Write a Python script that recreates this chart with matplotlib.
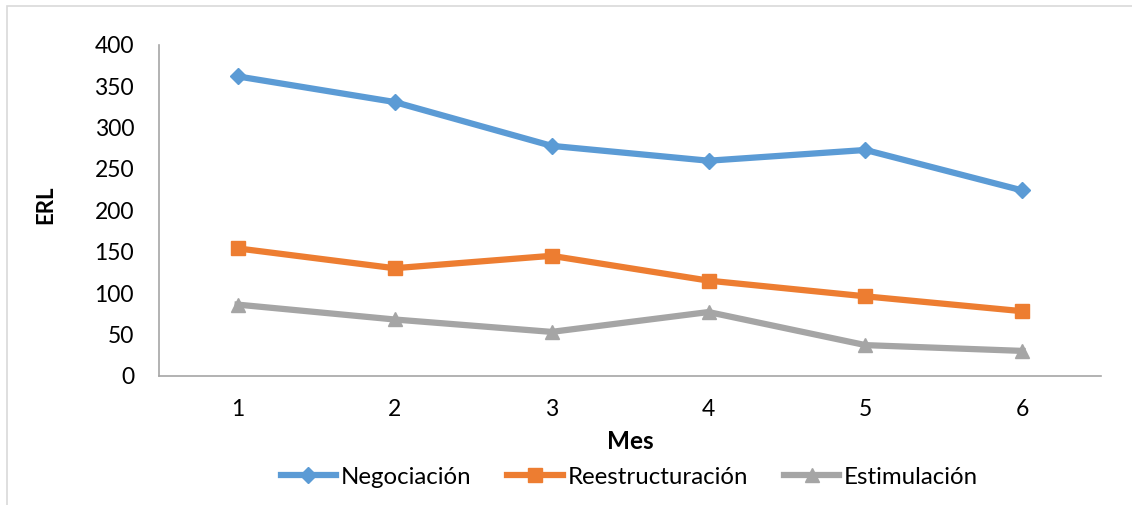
import matplotlib.pyplot as plt
from matplotlib.patches import Rectangle

# Datos por mes
meses = [1, 2, 3, 4, 5, 6]
negociacion = [362, 331, 278, 260, 273, 224]
reestructuracion = [154, 130, 145, 115, 96, 78]
estimulacion = [86, 68, 53, 77, 37, 30]

plt.rcParams['font.family'] = ['Lato', 'DejaVu Sans']

fig = plt.figure(figsize=(11.32, 5.05), dpi=100)
ax = fig.add_axes([0.1405, 0.256, 0.8321, 0.655])

# marco exterior del gráfico
fig.patches.append(Rectangle((7 / 1132, -0.1), 1.2, 1.1 - 6 / 505,
                             transform=fig.transFigure, fill=False,
                             edgecolor='#d9d9d9', linewidth=1.2))

ax.plot(meses, negociacion, color='#5B9BD5', lw=4.5, marker='D', ms=8,
        label='Negociación')
ax.plot(meses, reestructuracion, color='#ED7D31', lw=4.5, marker='s', ms=10,
        label='Reestructuración')
ax.plot(meses, estimulacion, color='#A5A5A5', lw=4.5, marker='^', ms=10,
        label='Estimulación')

ax.set_xlim(0.5, 6.5)
ax.set_ylim(0, 400)
ax.set_xticks(meses)
ax.set_yticks(range(0, 401, 50))
ax.tick_params(length=0, labelsize=16.5, colors='black')
ax.tick_params(axis='y', pad=18)
ax.tick_params(axis='x', pad=17)

for s in ['top', 'right']:
    ax.spines[s].set_visible(False)
for s in ['left', 'bottom']:
    ax.spines[s].set_color('#a6a6a6')
    ax.spines[s].set_linewidth(1.2)

fig.text(0.040, 0.594, 'ERL', rotation=90, fontsize=16, fontweight='bold',
         ha='center', va='center')
fig.text(0.5565, 0.125, 'Mes', fontsize=17.5, fontweight='bold',
         ha='center', va='center')

fig.legend(loc='center', bbox_to_anchor=(0.556, 0.055), ncol=3, frameon=False,
           fontsize=17.3, handlelength=2.3, handletextpad=0.2, columnspacing=1.5)

fig.savefig('out.png', dpi=100)
